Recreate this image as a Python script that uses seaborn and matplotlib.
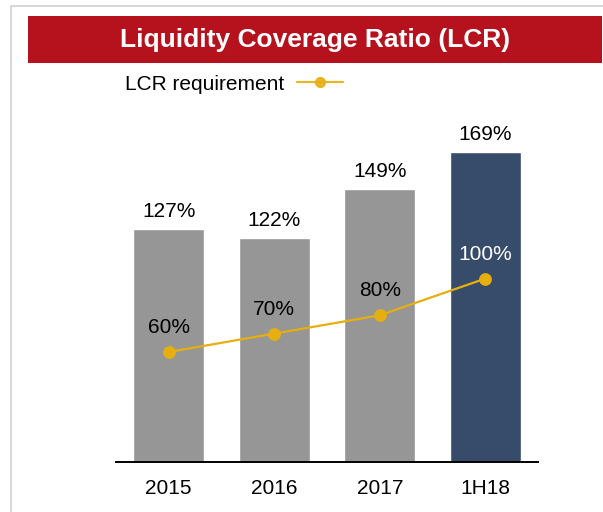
import matplotlib
matplotlib.use("Agg")
import matplotlib.pyplot as plt
import seaborn as sns
import pandas as pd
from matplotlib.patches import Rectangle
from matplotlib.lines import Line2D

categories = ["2015", "2016", "2017", "1H18"]
lcr_values = [127, 122, 149, 169]
lcr_requirement = [60, 70, 80, 100]
bar_colors = ["#969696", "#969696", "#969696", "#374B6A"]
title_text = "Liquidity Coverage Ratio (LCR)"
legend_label = "LCR requirement"

GOLD = "#E6AF0F"
RED = "#B5121E"

sns.set_theme(style="white")
plt.rcParams["font.family"] = ["Liberation Sans", "DejaVu Sans"]
plt.rcParams["text.color"] = "black"

W, H = 603, 512
fig = plt.figure(figsize=(W / 100, H / 100), dpi=100)

# outer light border
fig.patches.append(Rectangle((10.5 / W, -0.1), 1.2, 1 - 5.5 / H + 0.1, transform=fig.transFigure,
                             fill=False, edgecolor="#D0D0D0", linewidth=1.2))
# red title banner
fig.patches.append(Rectangle((28 / W, 1 - 63 / H), (602 - 28) / W, 47 / H, transform=fig.transFigure,
                             facecolor=RED, edgecolor="none"))
fig.text(315 / W, 1 - 40 / H, title_text, color="white", fontsize=19, fontweight="bold",
         ha="center", va="center")

ax_left, ax_right = 116, 538
ax_bottom, ax_top = 462, 100
ax = fig.add_axes([ax_left / W, 1 - ax_bottom / H, (ax_right - ax_left) / W, (ax_bottom - ax_top) / H])

df = pd.DataFrame({"cat": categories, "lcr": lcr_values, "req": lcr_requirement})
sns.barplot(data=df, x="cat", y="lcr", hue="cat", palette=bar_colors, dodge=False,
            width=0.675, legend=False, ax=ax, saturation=1)
sns.pointplot(data=df, x="cat", y="req", color=GOLD, markers="o", markersize=8,
              linewidth=1.6, ax=ax)

px_per_unit = 1.834
ax.set_xlim(-0.5, 3.5)
ax.set_ylim(0, (ax_bottom - ax_top) / px_per_unit)

for i, v in enumerate(lcr_values):
    ax.annotate(f"{v}%", (i, v), xytext=(0, 12.5), textcoords="offset points",
                ha="center", va="center", fontsize=15, color="black")
for i, v in enumerate(lcr_requirement):
    ax.annotate(f"{v}%", (i, v), xytext=(0, 17.5), textcoords="offset points",
                ha="center", va="center", fontsize=15,
                color="white" if i == len(lcr_requirement) - 1 else "black")

for s in ["top", "right", "left"]:
    ax.spines[s].set_visible(False)
ax.spines["bottom"].set_color("black")
ax.spines["bottom"].set_linewidth(1.4)
ax.set_yticks([])
ax.set_xlabel("")
ax.set_ylabel("")
ax.tick_params(axis="x", length=0, pad=12, labelsize=15, colors="black")

handle = Line2D([], [], color=GOLD, marker="o", markersize=7, linewidth=1.6, alpha=0.9)
fig.legend([handle], [legend_label], loc="center left", bbox_to_anchor=(125 / W, 1 - 84 / H),
           frameon=False, markerfirst=False, fontsize=15, handlelength=2.2, handletextpad=0.6,
           borderpad=0, borderaxespad=0, labelcolor="black")

fig.savefig("out.png", dpi=100)
